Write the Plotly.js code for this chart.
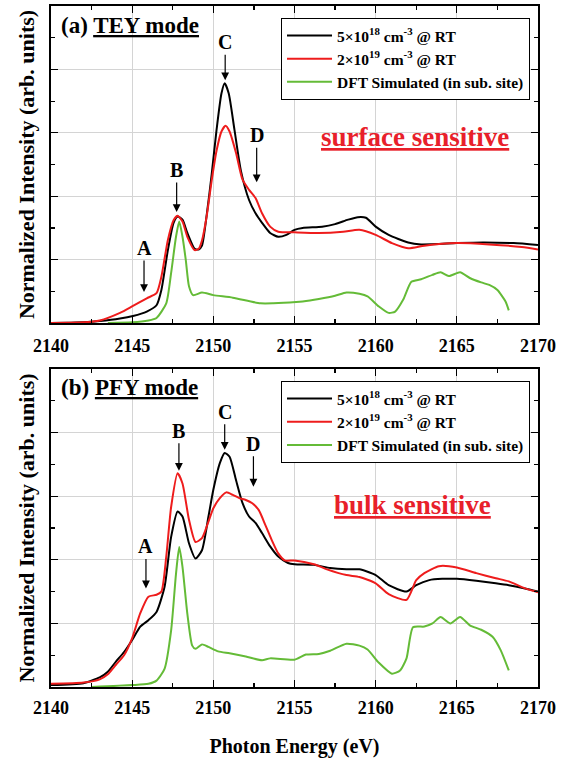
<!DOCTYPE html>
<html>
<head>
<meta charset="utf-8">
<script src="https://cdn.plot.ly/plotly-3.0.1.min.js"></script>
<style>html,body{margin:0;padding:0;background:#fff;}#chart{width:565px;height:758px;}</style>
</head>
<body>
<div id="chart"></div>
<script>
// ---- (a) TEY mode ----
const teyLowX = [2140, 2141, 2142, 2143, 2144.25, 2145.05, 2145.9, 2146.5, 2146.8, 2147.2, 2147.55, 2147.8, 2148.1, 2148.4, 2148.85, 2149.1, 2149.3, 2149.6, 2149.9, 2150.2, 2150.5, 2150.7, 2150.95, 2151.3, 2151.7, 2152.2, 2152.6, 2153, 2153.5, 2154, 2154.5, 2155, 2155.5, 2156.7, 2157.5, 2158.3, 2158.9, 2159.4, 2160, 2160.8, 2162, 2162.8, 2165, 2166.6, 2168.5, 2170];
const teyLowY = [0, 0.005, 0.01, 0.03, 0.07, 0.11, 0.18, 0.28, 0.52, 1.15, 1.58, 1.68, 1.63, 1.42, 1.17, 1.16, 1.22, 1.72, 2.35, 3.05, 3.62, 3.78, 3.62, 3.05, 2.4, 1.94, 1.73, 1.58, 1.42, 1.36, 1.39, 1.47, 1.5, 1.52, 1.56, 1.63, 1.67, 1.66, 1.52, 1.39, 1.27, 1.24, 1.26, 1.27, 1.26, 1.23];
const teyHighX = [2140, 2142, 2143, 2144.25, 2145.05, 2145.9, 2146.5, 2146.8, 2147.2, 2147.55, 2147.8, 2148.1, 2148.4, 2148.85, 2149.1, 2149.3, 2149.6, 2149.9, 2150.2, 2150.5, 2150.75, 2151, 2151.4, 2151.8, 2152.2, 2152.6, 2153, 2153.5, 2154, 2155, 2156.5, 2158, 2159, 2160, 2161, 2162, 2163, 2165, 2167, 2169, 2170];
const teyHighY = [0, 0.01, 0.04, 0.16, 0.27, 0.39, 0.47, 0.73, 1.31, 1.62, 1.69, 1.6, 1.36, 1.15, 1.17, 1.3, 1.7, 2.25, 2.72, 3.02, 3.11, 3.02, 2.68, 2.26, 2.1, 1.97, 1.73, 1.52, 1.44, 1.43, 1.42, 1.44, 1.47, 1.39, 1.26, 1.18, 1.22, 1.26, 1.24, 1.2, 1.16];
const teyDftX = [2143.5, 2145, 2146, 2146.5, 2147.1, 2147.4, 2147.7, 2147.9, 2148.1, 2148.3, 2148.5, 2148.75, 2149.3, 2150, 2151.2, 2152.9, 2153.7, 2155.1, 2155.5, 2156.5, 2157.5, 2158.2, 2159, 2159.5, 2160.2, 2160.8, 2161.2, 2161.7, 2162.2, 2162.8, 2163.5, 2164, 2164.5, 2165.2, 2165.8, 2166.5, 2167, 2167.5, 2168, 2168.2];
const teyDftY = [0, 0.01, 0.04, 0.08, 0.31, 0.79, 1.36, 1.6, 1.36, 1.0, 0.58, 0.44, 0.48, 0.44, 0.4, 0.31, 0.31, 0.33, 0.34, 0.38, 0.43, 0.48, 0.46, 0.42, 0.26, 0.16, 0.18, 0.37, 0.65, 0.69, 0.76, 0.8, 0.74, 0.8, 0.71, 0.64, 0.6, 0.52, 0.34, 0.2];

// ---- (b) PFY mode ----
const pfyLowX = [2140, 2142, 2143, 2143.5, 2144, 2144.5, 2145, 2145.5, 2146, 2146.5, 2147, 2147.4, 2147.8, 2148.1, 2148.5, 2148.9, 2149.3, 2149.7, 2150, 2150.4, 2150.7, 2151, 2151.4, 2151.8, 2152.2, 2152.6, 2153, 2153.5, 2154, 2154.6, 2155, 2156.2, 2157.2, 2158.2, 2159, 2160, 2160.8, 2161.9, 2162.5, 2163.3, 2164.1, 2165, 2166.2, 2167.4, 2168.2, 2169.2, 2170];
const pfyLowY = [0.03, 0.06, 0.15, 0.24, 0.4, 0.55, 0.74, 0.95, 1.05, 1.18, 1.58, 2.36, 2.76, 2.68, 2.26, 2.02, 2.15, 2.68, 3.1, 3.52, 3.68, 3.62, 3.25, 2.89, 2.68, 2.58, 2.42, 2.21, 2.05, 1.95, 1.93, 1.92, 1.87, 1.85, 1.85, 1.76, 1.6, 1.5, 1.6, 1.68, 1.7, 1.7, 1.67, 1.63, 1.6, 1.55, 1.5];
const pfyHighX = [2140, 2142, 2143, 2143.5, 2144, 2144.5, 2145, 2145.5, 2146, 2146.5, 2146.8, 2147.1, 2147.4, 2147.8, 2148.1, 2148.5, 2148.9, 2149.3, 2149.7, 2150, 2150.4, 2150.8, 2151.2, 2151.6, 2152, 2152.4, 2152.8, 2153.2, 2153.6, 2154, 2154.4, 2155, 2156.2, 2157, 2158.2, 2159, 2160, 2160.8, 2161.9, 2162.5, 2163, 2163.9, 2165, 2166.2, 2167.4, 2168.2, 2169.2, 2170];
const pfyHighY = [0.05, 0.07, 0.12, 0.2, 0.35, 0.5, 0.77, 1.16, 1.42, 1.45, 1.5, 2.05, 2.83, 3.36, 3.2, 2.63, 2.28, 2.34, 2.6, 2.81, 2.97, 3.06, 3.02, 2.97, 2.94, 2.89, 2.78, 2.55, 2.31, 2.1, 1.99, 1.99, 1.93, 1.85, 1.76, 1.73, 1.63, 1.46, 1.37, 1.68, 1.79, 1.9, 1.88, 1.79, 1.71, 1.66, 1.55, 1.49];
const pfyDftX = [2142.5, 2145, 2146, 2146.5, 2147, 2147.4, 2147.7, 2147.9, 2148.1, 2148.4, 2148.7, 2148.9, 2149.3, 2149.7, 2150.3, 2151, 2152, 2153, 2153.5, 2155, 2155.7, 2156.5, 2157.2, 2158.2, 2159, 2159.5, 2160.2, 2161, 2161.5, 2161.9, 2162.3, 2163, 2163.5, 2164, 2164.6, 2165.2, 2165.8, 2166.5, 2167.2, 2167.7, 2168.2];
const pfyDftY = [0, 0.03, 0.05, 0.1, 0.29, 0.89, 1.78, 2.2, 1.89, 1.15, 0.65, 0.6, 0.67, 0.63, 0.56, 0.53, 0.48, 0.42, 0.45, 0.43, 0.51, 0.52, 0.57, 0.68, 0.65, 0.59, 0.38, 0.21, 0.26, 0.45, 0.94, 0.95, 1.0, 1.1, 1.0, 1.1, 0.97, 0.9, 0.79, 0.58, 0.26];

const seriesNames = ["5×10<sup>18</sup> cm<sup>-3</sup> @ RT", "2×10<sup>19</sup> cm<sup>-3</sup> @ RT", "DFT Simulated (in sub. site)"];
const seriesColors = ["#000000", "#ee1c1c", "#64bb37"];
const tickVals = [2140, 2145, 2150, 2155, 2160, 2165, 2170];

const FONT = "'Liberation Serif', 'Times New Roman', serif";

function tr(x, y, i, xa, ya, leg) {
  return {x: x, y: y, type: 'scatter', mode: 'lines', name: seriesNames[i],
    xaxis: xa, yaxis: ya, legend: leg,
    line: {color: seriesColors[i], width: 2, shape: 'spline', smoothing: 0.6}};
}

const data = [
  tr(teyLowX, teyLowY, 0, 'x', 'y', 'legend'),
  tr(teyHighX, teyHighY, 1, 'x', 'y', 'legend'),
  tr(teyDftX, teyDftY, 2, 'x', 'y', 'legend'),
  tr(pfyLowX, pfyLowY, 0, 'x2', 'y2', 'legend2'),
  tr(pfyHighX, pfyHighY, 1, 'x2', 'y2', 'legend2'),
  tr(pfyDftX, pfyDftY, 2, 'x2', 'y2', 'legend2')
];

function xax(anchor, standoff) {
  return {range: [2140, 2170], tickvals: tickVals, ticktext: tickVals.map(String), anchor: anchor,
    ticks: 'inside', ticklen: 7, tickwidth: 1.2, tickcolor: '#000', mirror: 'allticks',
    showline: true, linecolor: '#000', linewidth: 1.8, zeroline: false,
    showgrid: true, gridcolor: '#d4d4d4', gridwidth: 1, ticklabelstandoff: standoff,
    tickfont: {family: FONT, size: 18, color: '#000', weight: 'bold'},
    minor: {dtick: 2.5, tick0: 2140, ticks: 'inside', ticklen: 4, tickcolor: '#000', showgrid: false}};
}
function yax(domain, anchor) {
  return {range: [0, 5], dtick: 1, tick0: 0, domain: domain, anchor: anchor, showticklabels: false,
    ticks: 'inside', ticklen: 7, tickwidth: 1.2, tickcolor: '#000', mirror: 'allticks',
    showline: true, linecolor: '#000', linewidth: 1.8, zeroline: false,
    showgrid: true, gridcolor: '#d4d4d4', gridwidth: 1,
    minor: {dtick: 0.5, ticks: 'inside', ticklen: 4, tickcolor: '#000', showgrid: false},
    title: {text: 'Normalized Intensity (arb. units)', standoff: 8,
      font: {family: FONT, size: 22, color: '#000', weight: 'bold'}}};
}

const xa1 = xax('y', 6); const xa2 = xax('y2', 4);
xa2.title = {text: 'Photon Energy (eV)', font: {family: FONT, size: 20, color: '#000', weight: 'bold'}};

function lab(txt, x, y, ay, xr, yr) {
  return {text: '<b>' + txt + '</b>', x: x, y: y, xref: xr, yref: yr, ax: 0, ay: ay,
    showarrow: true, arrowhead: 2, arrowsize: 1.3, arrowwidth: 1.2, arrowcolor: '#000',
    font: {family: FONT, size: 20, color: '#000'}};
}

const annotations = [
  {text: '<b>(a) <u>TEY mode</u></b>', xref: 'paper', yref: 'paper', x: 0.016, y: 0.972, xanchor: 'left', yanchor: 'middle', showarrow: false, font: {family: FONT, size: 23, color: '#000'}},
  {text: '<b>(b) <u>PFY mode</u></b>', xref: 'paper', yref: 'paper', x: 0.016, y: 0.4405, xanchor: 'left', yanchor: 'middle', showarrow: false, font: {family: FONT, size: 23, color: '#000'}},
  {text: '<b><u>surface sensitive</u></b>', xref: 'paper', yref: 'paper', x: 0.747, y: 0.8076, xanchor: 'center', yanchor: 'middle', showarrow: false, font: {family: FONT, size: 27, color: '#e8202a'}},
  {text: '<b><u>bulk sensitive</u></b>', xref: 'paper', yref: 'paper', x: 0.743, y: 0.267, xanchor: 'center', yanchor: 'middle', showarrow: false, font: {family: FONT, size: 27, color: '#e8202a'}},
  lab('A', 2145.73, 0.49, -44, 'x', 'y'),
  lab('B', 2147.74, 1.75, -42, 'x', 'y'),
  lab('C', 2150.73, 3.83, -38, 'x', 'y'),
  lab('D', 2152.67, 2.22, -47, 'x', 'y'),
  lab('A', 2145.85, 1.55, -42, 'x2', 'y2'),
  lab('B', 2147.88, 3.4, -40, 'x2', 'y2'),
  lab('C', 2150.7, 3.73, -38, 'x2', 'y2'),
  lab('D', 2152.47, 3.15, -43, 'x2', 'y2')
];

const legFont = {family: FONT, size: 15.5, color: '#000', weight: 'bold'};
const layout = {
  width: 565, height: 758,
  margin: {l: 51, r: 27, t: 6, b: 71},
  paper_bgcolor: '#fff', plot_bgcolor: '#fff',
  showlegend: true,
  xaxis: xa1, yaxis: yax([0.5345, 1], 'x'),
  xaxis2: xa2, yaxis2: yax([0, 0.467], 'x2'),
  legend: {x: 0.9836, xanchor: 'right', y: 0.9824, yanchor: 'top', bgcolor: '#fff', bordercolor: '#000', borderwidth: 1, font: legFont, tracegroupgap: 0, itemwidth: 45},
  legend2: {x: 0.9836, xanchor: 'right', y: 0.4493, yanchor: 'top', bgcolor: '#fff', bordercolor: '#000', borderwidth: 1, font: legFont, tracegroupgap: 0, itemwidth: 45},
  annotations: annotations
};

Plotly.newPlot('chart', data, layout, {staticPlot: true, displayModeBar: false});
</script>
</body>
</html>
